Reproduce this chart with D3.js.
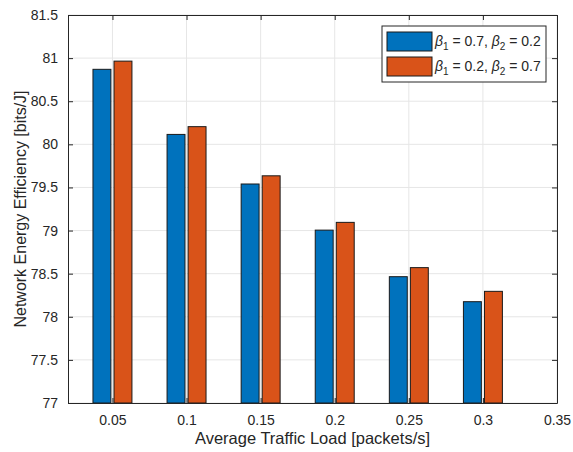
<!DOCTYPE html>
<html>
<head>
<meta charset="utf-8">
<script src="https://cdn.jsdelivr.net/npm/d3@7"></script>
<style>
  body { margin: 0; background: #fff; }
  text { font-family: "Liberation Sans", Arial, sans-serif; fill: #262626; }
</style>
</head>
<body>
<div id="chart"></div>
<script>
// traffic loads (x categories)
var loads = [0.05, 0.1, 0.15, 0.2, 0.25, 0.3];
// beta1 = 0.7, beta2 = 0.2
var seriesA = [80.87, 80.115, 79.54, 79.005, 78.465, 78.175];
// beta1 = 0.2, beta2 = 0.7
var seriesB = [80.965, 80.205, 79.635, 79.095, 78.57, 78.295];
var xTicks = [0.05, 0.1, 0.15, 0.2, 0.25, 0.3, 0.35];
var yTicks = [77, 77.5, 78, 78.5, 79, 79.5, 80, 80.5, 81, 81.5];
var seriesNames = [["0.7", "0.2"], ["0.2", "0.7"]];
var colors = ["#0072BD", "#D95319"];

var width = 573, height = 452;
var mLeft = 68, mRight = 557, mTop = 15, mBottom = 403;

var svg = d3.select('#chart')
    .append('svg')
    .attr('width', width)
    .attr('height', height);

var x = d3.scaleLinear().domain([0.02, 0.35]).range([mLeft, mRight]);
var y = d3.scaleLinear().domain([77, 81.5]).range([mBottom, mTop]);

// grid
svg.append('g').selectAll('line')
    .data(xTicks)
    .enter().append('line')
    .attr('x1', function(d) { return x(d) }).attr('x2', function(d) { return x(d) })
    .attr('y1', mTop).attr('y2', mBottom)
    .attr('stroke', '#e6e6e6').attr('stroke-width', 1);
svg.append('g').selectAll('line')
    .data(yTicks)
    .enter().append('line')
    .attr('x1', mLeft).attr('x2', mRight)
    .attr('y1', function(d) { return y(d) }).attr('y2', function(d) { return y(d) })
    .attr('stroke', '#e6e6e6').attr('stroke-width', 1);

// bars
var barW = 0.0121, off = 0.0071;
var rows = loads.map(function(l, i) {
    return [{ x: l - off, v: seriesA[i], c: 0 }, { x: l + off, v: seriesB[i], c: 1 }];
}).flat();

svg.append('g').selectAll('rect')
    .data(rows)
    .enter().append('rect')
    .attr('x', function(d) { return x(d.x - barW / 2) })
    .attr('width', function(d) { return x(barW) - x(0) })
    .attr('y', function(d) { return y(d.v) })
    .attr('height', function(d) { return y(77) - y(d.v) })
    .attr('fill', function(d) { return colors[d.c] })
    .attr('stroke', '#1a1a1a')
    .attr('stroke-width', 1);

// axes (MATLAB style, ticks inward, box on)
var fmt = function(d) { return String(+d.toFixed(2)) };
function styleAxis(g) {
    g.select('.domain').attr('stroke', '#262626');
    g.selectAll('line').attr('stroke', '#262626');
    g.selectAll('text').attr('font-size', 14).style('fill', '#262626')
        .attr('font-family', '"Liberation Sans", Arial, sans-serif');
}
svg.append('g')
    .attr('transform', 'translate(0,' + mBottom + ')')
    .call(d3.axisBottom(x).tickValues(xTicks).tickSizeInner(-5).tickSizeOuter(0).tickPadding(12).tickFormat(fmt))
    .call(styleAxis);
svg.append('g')
    .attr('transform', 'translate(' + mLeft + ',0)')
    .call(d3.axisLeft(y).tickValues(yTicks).tickSizeInner(-5).tickSizeOuter(0).tickPadding(10).tickFormat(fmt))
    .call(styleAxis);
svg.append('g')
    .attr('transform', 'translate(0,' + mTop + ')')
    .call(d3.axisTop(x).tickValues(xTicks).tickSizeInner(-5).tickSizeOuter(0).tickFormat(''))
    .call(styleAxis);
svg.append('g')
    .attr('transform', 'translate(' + mRight + ',0)')
    .call(d3.axisRight(y).tickValues(yTicks).tickSizeInner(-5).tickSizeOuter(0).tickFormat(''))
    .call(styleAxis);

// axis labels
svg.append('text')
    .attr('x', (mLeft + mRight) / 2).attr('y', 444)
    .attr('text-anchor', 'middle')
    .attr('font-size', 16.5)
    .text('Average Traffic Load [packets/s]');
svg.append('text')
    .attr('transform', 'translate(26,' + ((mTop + mBottom) / 2) + ') rotate(-90)')
    .attr('text-anchor', 'middle')
    .attr('font-size', 16)
    .text('Network Energy Efficiency [bits/J]');

// legend
var lg = svg.append('g').attr('transform', 'translate(382,26)');
lg.append('rect')
    .attr('width', 164).attr('height', 56)
    .attr('fill', '#fff').attr('stroke', '#262626').attr('stroke-width', 1);
seriesNames.forEach(function(n, i) {
    var yy = 6 + i * 25;
    lg.append('rect')
        .attr('x', 5).attr('y', yy).attr('width', 45).attr('height', 19)
        .attr('fill', colors[i]).attr('stroke', '#1a1a1a');
    var t = lg.append('text')
        .attr('x', 53).attr('y', yy + 14)
        .attr('font-size', 14);
    t.append('tspan').attr('font-style', 'italic').text('β');
    t.append('tspan').attr('dy', 4).attr('font-size', 10).text('1');
    t.append('tspan').attr('dy', -4).text(' = ' + n[0] + ', ');
    t.append('tspan').attr('font-style', 'italic').text('β');
    t.append('tspan').attr('dy', 4).attr('font-size', 10).text('2');
    t.append('tspan').attr('dy', -4).text(' = ' + n[1]);
});
</script>
</body>
</html>
